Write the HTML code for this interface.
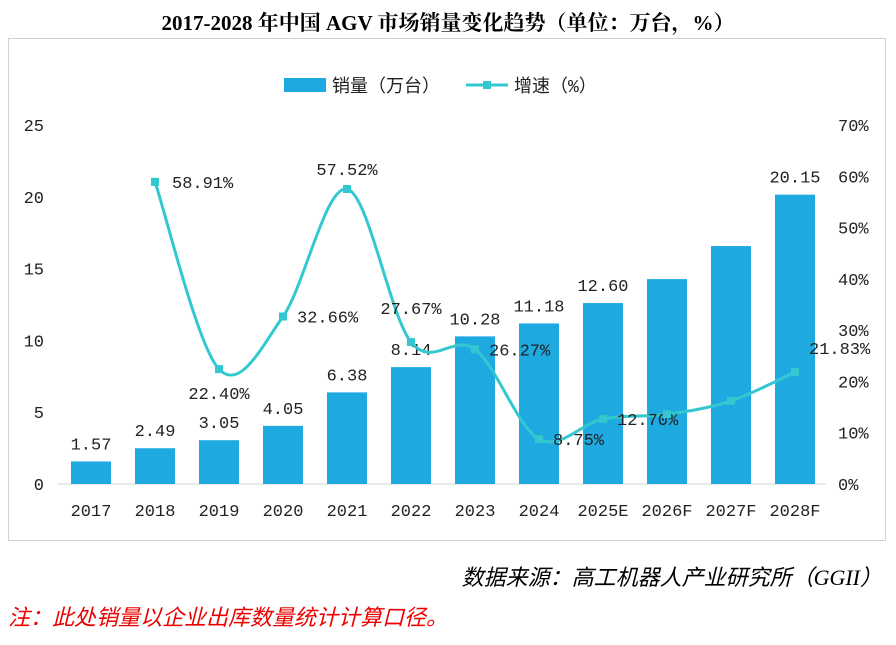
<!DOCTYPE html>
<html><head><meta charset="utf-8">
<style>
body{margin:0;background:#fff;width:896px;height:645px;overflow:hidden;font-family:"Liberation Serif","Noto Serif CJK SC",serif;}
.t{position:absolute;white-space:nowrap}
</style></head>
<body>
<div class="t" style="left:0;width:896px;top:7px;text-align:center;font-weight:bold;font-size:21px;">2017-2028 年中国 AGV 市场销量变化趋势（单位：万台，%）</div>
<div style="position:absolute;left:8px;top:38px;width:876px;height:501px;border:1px solid #d0d0d0;"></div>
<svg id="c" width="896" height="645" style="position:absolute;left:0;top:0;font-family:'Liberation Mono','Noto Sans CJK SC',monospace"></svg>
<div class="t" style="right:14px;top:560px;font-size:22px;font-style:italic;font-family:'Liberation Serif','Noto Sans CJK SC',serif;">数据来源：高工机器人产业研究所（GGII）</div>
<div class="t" style="left:8px;top:600px;font-size:22px;font-style:italic;color:#e00;font-family:'Liberation Serif','Noto Sans CJK SC',serif;">注：此处销量以企业出库数量统计计算口径。</div>
<script>
const categories=["2017","2018","2019","2020","2021","2022","2023","2024","2025E","2026F","2027F","2028F"];
const sales=[1.57,2.49,3.05,4.05,6.38,8.14,10.28,11.18,12.60,14.27,16.57,20.15];
const salesLabels=["1.57","2.49","3.05","4.05","6.38","8.14","10.28","11.18","12.60","","","20.15"];
const growth=[null,58.91,22.40,32.66,57.52,27.67,26.27,8.75,12.70,13.6,16.2,21.83];
const growthLabels=["","58.91%","22.40%","32.66%","57.52%","27.67%","26.27%","8.75%","12.70%","","","21.83%"];
const leftTicks=[0,5,10,15,20,25];
const rightTicks=[0,10,20,30,40,50,60,70];
const NS="http://www.w3.org/2000/svg";
const svg=document.getElementById('c');
const x0=91,dx=64,yb=484,ytop=125;
const X=i=>x0+i*dx;
const YL=v=>yb-v/25*(yb-ytop);
const YR=v=>yb-v/70*(yb-ytop);
function mk(t,a,txt){const e=document.createElementNS(NS,t);for(const k in a)e.setAttribute(k,a[k]);if(txt!==undefined)e.textContent=txt;svg.appendChild(e);return e;}
leftTicks.forEach(v=>{const e=mk('text',{x:44,y:YL(v)+6,'text-anchor':'end','font-size':17,fill:'#222'},String(v));

});
rightTicks.forEach(v=>{const e=mk('text',{x:838,y:YR(v)+6,'font-size':17,fill:'#222'},v+'%');

});
const ax=mk('line',{x1:58,x2:826,y1:yb,y2:yb,stroke:'#d0d0d0'});


categories.forEach((c,i)=>{
 const b=mk('rect',{x:X(i)-20,y:YL(sales[i]),width:40,height:yb-YL(sales[i]),fill:'#1fa9e1'});
 
 
 const t=mk('text',{x:X(i),y:516,'text-anchor':'middle','font-size':17,fill:'#222'},c);
 
 
 if(salesLabels[i]){const l=mk('text',{x:X(i),y:YL(sales[i])-12,'text-anchor':'middle','font-size':17,fill:'#222'},salesLabels[i]);
 
 }
});
const pts=[];growth.forEach((g,i)=>{if(g!==null)pts.push([X(i),YR(g)]);});
let d='M'+pts[0][0]+','+pts[0][1];
for(let i=0;i<pts.length-1;i++){const p0=pts[i-1]||pts[i],p1=pts[i],p2=pts[i+1],p3=pts[i+2]||p2;const k=0.5/3;
 d+=' C'+(p1[0]+(p2[0]-p0[0])*k)+','+(p1[1]+(p2[1]-p0[1])*k)+' '+(p2[0]-(p3[0]-p1[0])*k)+','+(p2[1]-(p3[1]-p1[1])*k)+' '+p2[0]+','+p2[1];}
const ln=mk('path',{d:d,fill:'none',stroke:'#33c8d0','stroke-width':3});


const off={1:[17,6,'start'],2:[0,-92,'middle'],3:[14,6,'start'],4:[0,-14,'middle'],5:[0,-28,'middle'],6:[14,6,'start'],7:[14,6,'start'],8:[14,6,'start'],11:[14,-18,'start']};
growth.forEach((g,i)=>{if(g===null)return;
 const m=mk('rect',{x:X(i)-4,y:YR(g)-4,width:8,height:8,fill:'#33c8d0'});
 
 
 if(growthLabels[i]){const o=off[i]||[12,6,'start'];let yy=YR(g)+o[1];if(i===2)yy=YR(g)+30;
 const l=mk('text',{x:X(i)+o[0],y:yy,'text-anchor':o[2],'font-size':17,fill:'#222'},growthLabels[i]);
 
 }
});
const lb=mk('rect',{x:284,y:78,width:42,height:14,fill:'#1fa9e1'});


const lt=mk('text',{x:332,y:92,'font-size':18,fill:'#222'},'销量（万台）');


const ll=mk('line',{x1:466,x2:508,y1:85,y2:85,stroke:'#33c8d0','stroke-width':3});


const lm=mk('rect',{x:483,y:81,width:8,height:8,fill:'#33c8d0'});


const lt2=mk('text',{x:514,y:92,'font-size':18,fill:'#222'},'增速（%）');


</script>
</body></html>
